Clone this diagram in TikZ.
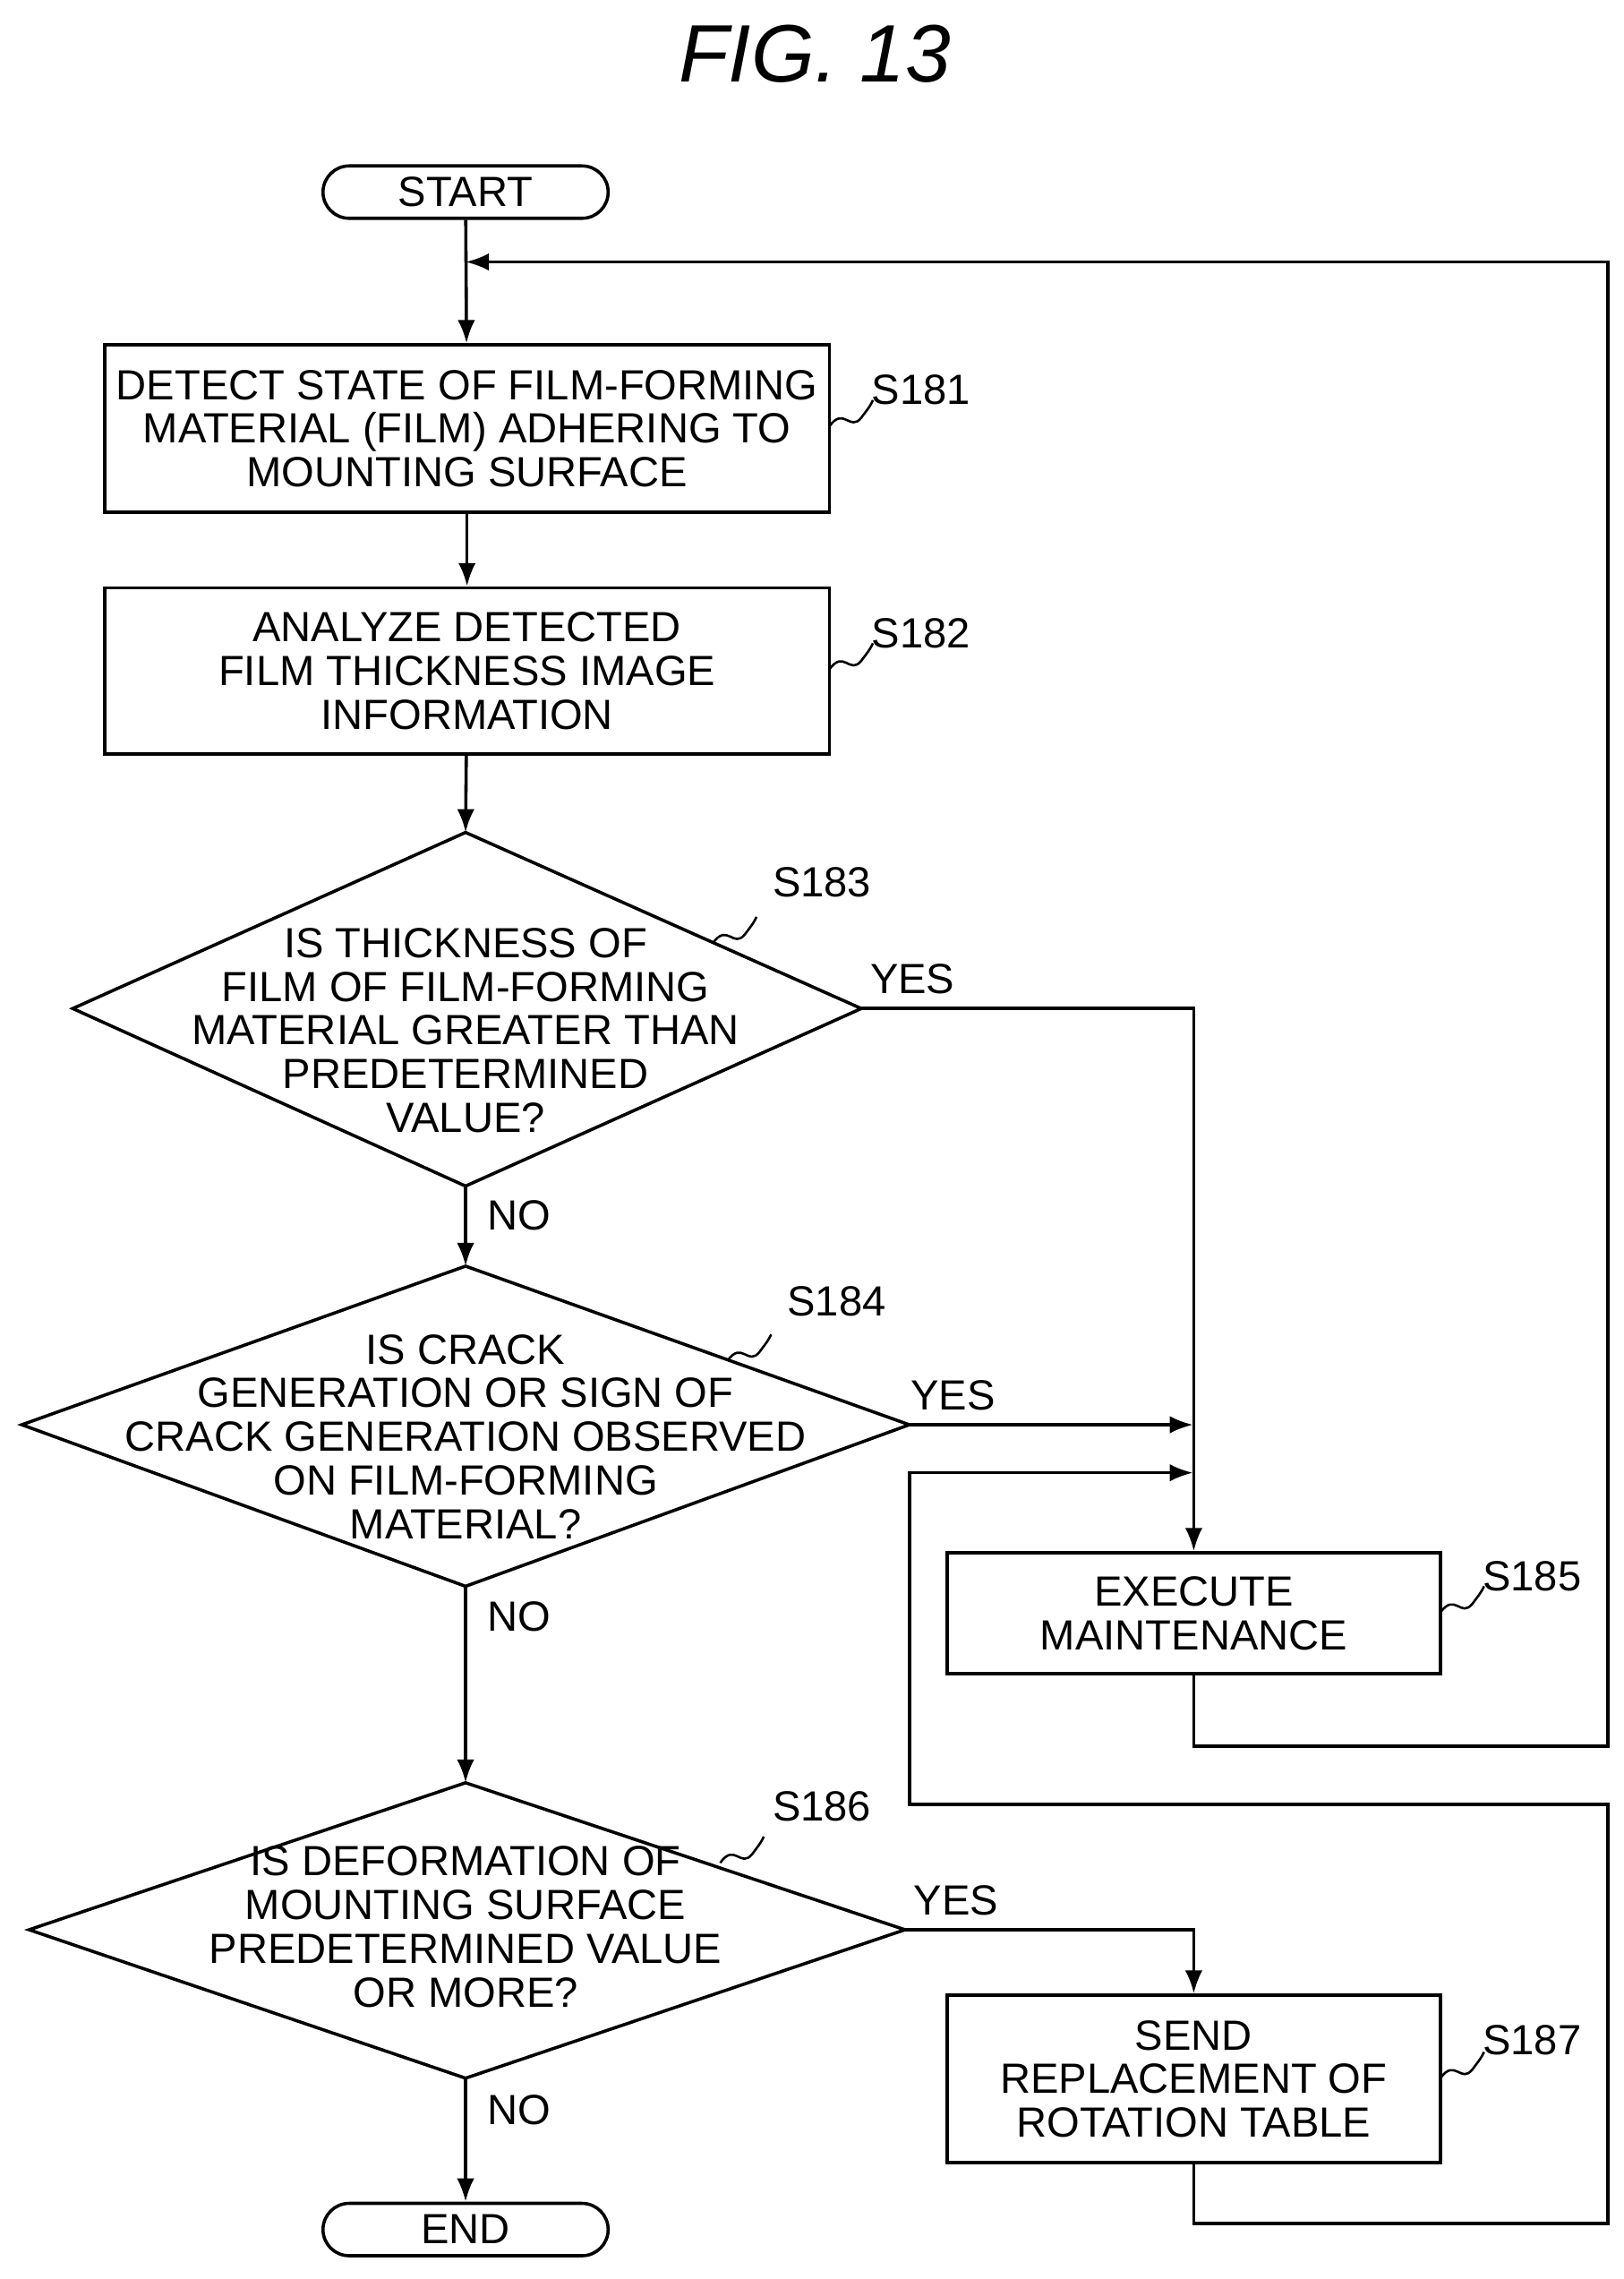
\documentclass[tikz,border=0pt]{standalone}
\usepackage{fontspec}
\setmainfont{Liberation Sans}
\usetikzlibrary{arrows.meta}
\begin{document}
\begin{tikzpicture}[x=1pt,y=-1pt,line width=2.2pt,
  txt/.style={font=\fontsize{29}{30}\selectfont,align=center,inner sep=0pt},
  box/.style={draw,rectangle,minimum width=#1,inner sep=0pt},
  term/.style={draw,rounded corners=18pt,minimum width=196pt,minimum height=36pt,font=\fontsize{29}{30}\selectfont,inner sep=0pt},
  arr/.style={-{Latex[length=16pt,width=12pt]}},
  lab/.style={font=\fontsize{29}{30}\selectfont,inner sep=0pt}]
\useasboundingbox (0,0) rectangle (1116,1566);
\node[font=\fontsize{56}{60}\selectfont\itshape] (title) at (560,37) {FIG. 13};
\node[term] (start) at (320,132) {START};
\node[term] (end) at (320,1532) {END};
\node[box=498pt,minimum height=115pt,txt] (s181) at (321,294.5) {DETECT STATE OF FILM-FORMING\\MATERIAL (FILM) ADHERING TO\\MOUNTING SURFACE};
\node[box=498pt,minimum height=114pt,txt] (s182) at (321,461) {ANALYZE DETECTED\\FILM THICKNESS IMAGE\\INFORMATION};
\node[box=339pt,minimum height=83pt,txt] (s185) at (820.5,1108.5) {EXECUTE\\MAINTENANCE};
\node[box=339pt,minimum height=115pt,txt] (s187) at (820.5,1428.5) {SEND\\REPLACEMENT OF\\ROTATION TABLE};
% diamonds
\coordinate (d3t) at (320,572); \coordinate (d3b) at (320,815); \coordinate (d3l) at (50,693); \coordinate (d3r) at (592,693);
\draw (d3t)--(d3r)--(d3b)--(d3l)--cycle;
\node[txt] (d3) at (320,708) {IS THICKNESS OF\\FILM OF FILM-FORMING\\MATERIAL GREATER THAN\\PREDETERMINED\\VALUE?};
\coordinate (d4t) at (320,870); \coordinate (d4b) at (320,1090); \coordinate (d4l) at (15,979); \coordinate (d4r) at (625,979);
\draw (d4t)--(d4r)--(d4b)--(d4l)--cycle;
\node[txt] (d4) at (320,987) {IS CRACK\\GENERATION OR SIGN OF\\CRACK GENERATION OBSERVED\\ON FILM-FORMING\\MATERIAL?};
\coordinate (d6t) at (320,1225); \coordinate (d6b) at (320,1428); \coordinate (d6l) at (20,1326); \coordinate (d6r) at (622,1326);
\draw (d6t)--(d6r)--(d6b)--(d6l)--cycle;
\node[txt] (d6) at (320,1324) {IS DEFORMATION OF\\MOUNTING SURFACE\\PREDETERMINED VALUE\\OR MORE?};
% main flow
\draw[arr] (start)--(s181);
\draw[arr] (s181)--(s182);
\draw[arr] (s182)--(d3t);
\draw[arr] (d3b)--(d4t);
\draw[arr] (d4b)--(d6t);
\draw[arr] (d6b)--(end);
\draw[arr] (d3r)-|(s185.north);
\coordinate (j1) at (820,979);
\draw[arr] (d4r)--(j1);
\draw[arr] (d6r)-|(s187.north);
\coordinate (lp) at (320,180);
\draw[arr] (s185.south)|-(1105,1200)|-(lp);
\coordinate (j2) at (820,1012);
\draw[arr] (s187.south)|-(1105,1528)|-(625,1240)|-(j2);
% labels
\node[lab,anchor=west] at (597,673) {YES};
\node[lab,anchor=west] at (625,959) {YES};
\node[lab,anchor=west] at (627,1306) {YES};
\node[lab,anchor=west] at (334,835) {NO};
\node[lab,anchor=west] at (334,1111) {NO};
\node[lab,anchor=west] at (334,1450) {NO};
% step labels
\newcommand{\sq}[2]{\draw[line width=1.6pt] (#1,#2) .. controls (#1+10,#2-14) and (#1+14,#2+4) .. (#1+22,#2-6) .. controls (#1+28,#2-14) .. (#1+30,#2-18);}
\node[lab,anchor=west] (l181) at (598,268) {S181};
\sq{570}{293}
\node[lab,anchor=west] (l182) at (598,435) {S182};
\sq{570}{460}
\node[lab,anchor=west] (l183) at (530,606) {S183};
\sq{490}{648}
\node[lab,anchor=west] (l184) at (540,894) {S184};
\sq{500}{935}
\node[lab,anchor=west] (l186) at (530,1241) {S186};
\sq{495}{1280}
\node[lab,anchor=west] (l185) at (1018,1083) {S185};
\sq{990}{1108}
\node[lab,anchor=west] (l187) at (1018,1402) {S187};
\sq{990}{1428}
\end{tikzpicture}
\end{document}
